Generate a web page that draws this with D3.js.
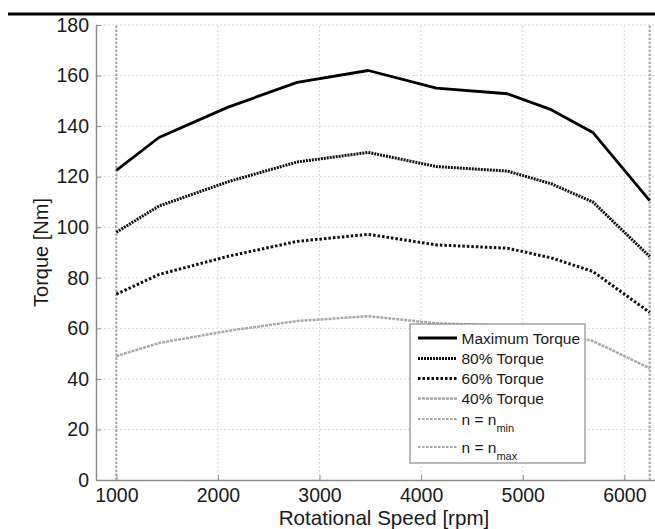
<!DOCTYPE html>
<html>
<head>
<meta charset="utf-8">
<script src="https://cdn.jsdelivr.net/npm/d3@7/dist/d3.min.js"></script>
<style>
  html, body { margin: 0; padding: 0; background: #fff; }
  svg { display: block; font-family: "Liberation Sans", Arial, Helvetica, sans-serif; }
</style>
</head>
<body>
<svg id="chart" width="655" height="529"></svg>
<script>
// Rotational speed operating points [rpm]
const speeds = [1000, 1420, 2100, 2780, 3480, 4150, 4850, 5280, 5690, 6250];

// Torque curves [Nm]
const maxTorque = [122.5, 135.5, 147.5, 157.3, 162.0, 155.0, 152.8, 146.5, 137.5, 110.5];
const torque80  = [98.0, 108.4, 118.0, 125.8, 129.6, 124.0, 122.2, 117.2, 110.0, 88.4];
const torque60  = [73.5, 81.3, 88.5, 94.4, 97.2, 93.0, 91.7, 87.9, 82.5, 66.3];
const torque40  = [49.0, 54.2, 59.0, 62.9, 64.8, 62.0, 61.1, 58.6, 55.0, 44.2];

// Speed limits
const nMin = 1000;
const nMax = 6250;

// Axis ticks
const xTicks = [1000, 2000, 3000, 4000, 5000, 6000];
const yTicks = [0, 20, 40, 60, 80, 100, 120, 140, 160, 180];

const svg = d3.select("#chart");

const x = d3.scaleLinear().domain([800, 6300]).range([96, 654.8]);
const y = d3.scaleLinear().domain([0, 180]).range([480, 25]);

// Header rule
svg.append("line")
  .attr("x1", 8).attr("x2", 655).attr("y1", 14).attr("y2", 14)
  .attr("stroke", "#000").attr("stroke-width", 3);

// Grid
const grid = svg.append("g");
grid.selectAll(".gx").data(xTicks).join("line")
  .attr("x1", d => x(d)).attr("x2", d => x(d))
  .attr("y1", y(0)).attr("y2", y(180))
  .attr("stroke", "#d9d9d9").attr("stroke-width", 1)
  .attr("stroke-dasharray", "2,2");
grid.selectAll(".gy").data(yTicks.filter(d => d > 0)).join("line")
  .attr("x1", x(800)).attr("x2", x(6300))
  .attr("y1", d => y(d)).attr("y2", d => y(d))
  .attr("stroke", "#d9d9d9").attr("stroke-width", 1)
  .attr("stroke-dasharray", "2,2");

// Axes (ticks pointing inward)
const axisColor = "#8c8c8c";
const fmt = d3.format("d");
const xAxis = svg.append("g").attr("transform", `translate(0,${y(0)})`)
  .call(d3.axisBottom(x).tickValues(xTicks).tickFormat(fmt).tickSizeInner(-5).tickSizeOuter(0).tickPadding(8));
const yAxis = svg.append("g").attr("transform", `translate(${x(800)},0)`)
  .call(d3.axisLeft(y).tickValues(yTicks).tickFormat(fmt).tickSizeInner(-5).tickSizeOuter(0).tickPadding(7));
[xAxis, yAxis].forEach(a => {
  a.select(".domain").attr("stroke", axisColor).attr("stroke-width", 1.5);
  a.selectAll(".tick line").attr("stroke", axisColor).attr("stroke-width", 1);
  a.selectAll(".tick text")
    .attr("fill", "#1a1a1a")
    .style("font-size", "19.5px")
    .style("font-family", "'Liberation Sans', Arial, sans-serif");
});

// Axis titles
svg.append("text")
  .attr("x", 384).attr("y", 525)
  .attr("text-anchor", "middle").attr("fill", "#1a1a1a")
  .style("font-size", "20.6px")
  .text("Rotational Speed [rpm]");
svg.append("text")
  .attr("transform", `translate(47.5,${(y(0) + y(180)) / 2}) rotate(-90)`)
  .attr("text-anchor", "middle").attr("fill", "#1a1a1a")
  .style("font-size", "20px")
  .text("Torque [Nm]");

// Series definitions
const series = [
  { name: "Maximum Torque", values: maxTorque, color: "#000", width: 2.8, dash: null },
  { name: "80% Torque", values: torque80, color: "#111", width: 3, dash: "2,1" },
  { name: "60% Torque", values: torque60, color: "#111", width: 3, dash: "2.5,2" },
  { name: "40% Torque", values: torque40, color: "#a9a9a9", width: 2.5, dash: "3,1" }
];

const limitStyle = { color: "#a9a9a9", width: 2.2, dash: "2.5,1.5" };

// Speed limit lines
svg.selectAll(".lim").data([nMin, nMax]).join("line")
  .attr("x1", d => x(d)).attr("x2", d => x(d))
  .attr("y1", y(0)).attr("y2", y(180))
  .attr("stroke", limitStyle.color).attr("stroke-width", limitStyle.width)
  .attr("stroke-dasharray", limitStyle.dash);

// Torque curves
const line = d3.line().x(d => x(d[0])).y(d => y(d[1]));
svg.selectAll(".curve").data(series).join("path")
  .attr("d", s => line(speeds.map((v, i) => [v, s.values[i]])))
  .attr("fill", "none")
  .attr("stroke", s => s.color)
  .attr("stroke-width", s => s.width)
  .attr("stroke-dasharray", s => s.dash)
  .attr("stroke-linejoin", "round");

// Legend
const lg = svg.append("g");
lg.append("rect")
  .attr("x", 410).attr("y", 324).attr("width", 175).attr("height", 139)
  .attr("fill", "#fff").attr("stroke", "#8c8c8c").attr("stroke-width", 1.2);

const legendRows = [
  { label: "Maximum Torque", sub: null, style: series[0], cy: 338 },
  { label: "80% Torque", sub: null, style: series[1], cy: 358.5 },
  { label: "60% Torque", sub: null, style: series[2], cy: 378.5 },
  { label: "40% Torque", sub: null, style: series[3], cy: 398.5 },
  { label: "n = n", sub: "min", style: limitStyle, cy: 419 },
  { label: "n = n", sub: "max", style: limitStyle, cy: 447 }
];

legendRows.forEach(r => {
  lg.append("line")
    .attr("x1", 418).attr("x2", 457).attr("y1", r.cy).attr("y2", r.cy)
    .attr("stroke", r.style.color).attr("stroke-width", r.style.width)
    .attr("stroke-dasharray", r.style.dash);
  const t = lg.append("text")
    .attr("x", 461.5).attr("y", r.cy + 5.5)
    .attr("fill", "#1a1a1a")
    .style("font-size", "15.5px")
    .text(r.label);
  if (r.sub) {
    t.append("tspan").attr("dy", 7).style("font-size", "11px").text(r.sub);
  }
});
</script>
</body>
</html>
